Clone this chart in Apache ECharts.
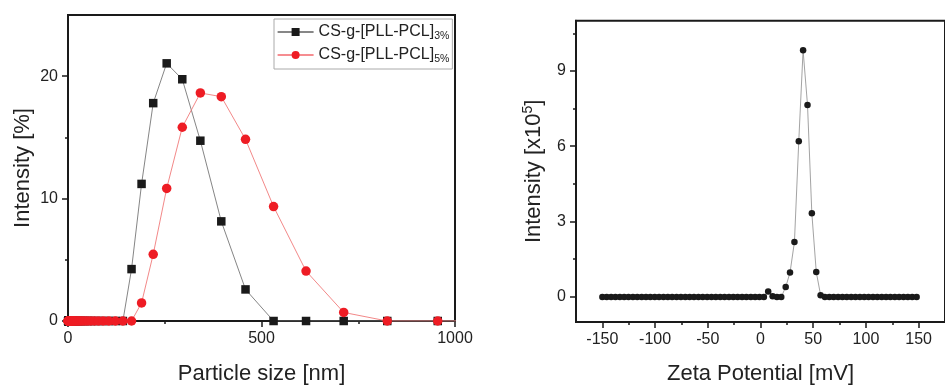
<!DOCTYPE html>
<html><head><meta charset="utf-8">
<script src="https://cdn.jsdelivr.net/npm/echarts@6/dist/echarts.min.js"></script>
<style>html,body{margin:0;padding:0;background:#fff}#c{width:945px;height:390px}</style>
</head><body><div id="c"></div>
<script>
// Particle size distribution (DLS bins, nm)
const sizeBins = [0.4, 0.4632, 0.5365, 0.6213, 0.7195, 0.8332, 0.9649, 1.117, 1.294, 1.499,
  1.736, 2.01, 2.328, 2.696, 3.122, 3.615, 4.187, 4.849, 5.615, 6.503,
  7.531, 8.721, 10.1, 11.7, 13.54, 15.69, 18.17, 21.04, 24.36, 28.21,
  32.67, 37.84, 43.82, 50.75, 58.77, 68.06, 78.82, 91.28, 105.7, 122.4,
  141.8, 164.2, 190.1, 220.2, 255, 295.3, 342, 396.1, 458.7, 531.2,
  615.1, 712.4, 825, 955.4, 1106];
const intensity3 = [0, 0, 0, 0, 0, 0, 0, 0, 0, 0,
  0, 0, 0, 0, 0, 0, 0, 0, 0, 0,
  0, 0, 0, 0, 0, 0, 0, 0, 0, 0,
  0, 0, 0, 0, 0, 0, 0, 0, 0, 0,
  0, 4.24, 11.2, 17.8, 21.05, 19.75, 14.73, 8.14, 2.58, 0,
  0, 0, 0, 0, 0];
const intensity5 = [0, 0, 0, 0, 0, 0, 0, 0, 0, 0,
  0, 0, 0, 0, 0, 0, 0, 0, 0, 0,
  0, 0, 0, 0, 0, 0, 0, 0, 0, 0,
  0, 0, 0, 0, 0, 0, 0, 0, 0, 0,
  0, 0, 1.48, 5.45, 10.83, 15.83, 18.63, 18.33, 14.84, 9.35,
  4.08, 0.7, 0, 0, 0];
const legendNames = ['CS-g-[PLL-PCL]', 'CS-g-[PLL-PCL]'];
const legendSubs = ['3%', '5%'];

// Zeta potential distribution
const zetaX = [-150, -145.9, -141.7, -137.6, -133.4, -129.3, -125.2, -121.0, -116.9, -112.7,
  -108.6, -104.5, -100.3, -96.2, -92.0, -87.9, -83.8, -79.6, -75.5, -71.3,
  -67.2, -63.1, -58.9, -54.8, -50.6, -46.5, -42.4, -38.2, -34.1, -29.9,
  -25.8, -21.7, -17.5, -13.4, -9.2, -5.1, -1.0, 3.2, 7.3, 11.5,
  15.6, 19.7, 23.9, 28.0, 32.2, 36.3, 40.4, 44.6, 48.7, 52.9,
  57.0, 61.1, 65.3, 69.4, 73.6, 77.7, 81.8, 86.0, 90.1, 94.3,
  98.4, 102.5, 106.7, 110.8, 115.0, 119.1, 123.2, 127.4, 131.5, 135.7,
  139.8, 143.9, 148.1];
const zetaY = [0, 0, 0, 0, 0, 0, 0, 0, 0, 0,
  0, 0, 0, 0, 0, 0, 0, 0, 0, 0,
  0, 0, 0, 0, 0, 0, 0, 0, 0, 0,
  0, 0, 0, 0, 0, 0, 0, 0, 0.21, 0.03,
  0, 0, 0.39, 0.97, 2.19, 6.2, 9.82, 7.64, 3.33, 0.99,
  0.07, 0, 0, 0, 0, 0, 0, 0, 0, 0,
  0, 0, 0, 0, 0, 0, 0, 0, 0, 0,
  0, 0, 0];

// Tick values
const leftXTicks = [0, 500, 1000];
const leftXMinor = [250, 750];
const leftYTicks = [0, 10, 20];
const leftYMinor = [5, 15];
const rightXTicks = [-150, -100, -50, 0, 50, 100, 150];
const rightXMinor = [-125, -75, -25, 25, 75, 125];
const rightYTicks = [0, 3, 6, 9];
const rightYMinor = [1.5, 4.5, 7.5, 10.5];

const FONT = 'Liberation Sans';
const AX = '#1a1a1a';
const chart = echarts.init(document.getElementById('c'));

function labelStyle(vals) {
  return { fontSize: 16, color: '#222', margin: 10, fontFamily: FONT, customValues: vals,
    formatter: v => String(v) };
}
function tickStyle(vals, len) {
  return { show: true, length: len, customValues: vals, lineStyle: { color: AX, width: 1.5 } };
}
function mainAxis(extra) {
  return Object.assign({
    type: 'value',
    axisLine: { show: true, onZero: false, lineStyle: { color: AX, width: 2 } },
    splitLine: { show: false },
    nameLocation: 'middle',
    nameTextStyle: { fontSize: 22, color: '#222', fontFamily: FONT }
  }, extra);
}
function minorAxis(extra) {
  return Object.assign({
    type: 'value',
    axisLine: { show: false, onZero: false },
    axisLabel: { show: false },
    splitLine: { show: false }
  }, extra);
}

const option = {
  backgroundColor: '#fff',
  animation: false,
  grid: [
    { left: 68, top: 15, width: 387, height: 309.3, show: true, borderColor: AX, borderWidth: 2, containLabel: false },
    { left: 576, top: 20.7, width: 377, height: 305, show: true, borderColor: AX, borderWidth: 2, containLabel: false }
  ],
  xAxis: [
    mainAxis({ gridIndex: 0, position: 'bottom', min: 0, max: 1000,
      axisTick: tickStyle(leftXTicks, 6), axisLabel: labelStyle(leftXTicks),
      name: 'Particle size [nm]', nameGap: 42 }),
    minorAxis({ gridIndex: 0, position: 'bottom', min: 0, max: 1000,
      axisTick: tickStyle(leftXMinor, 3) }),
    mainAxis({ gridIndex: 1, position: 'bottom', min: -175, max: 175,
      axisTick: tickStyle(rightXTicks, 6), axisLabel: labelStyle(rightXTicks),
      name: 'Zeta Potential [mV]', nameGap: 41 }),
    minorAxis({ gridIndex: 1, position: 'bottom', min: -175, max: 175,
      axisTick: tickStyle(rightXMinor, 3) })
  ],
  yAxis: [
    mainAxis({ gridIndex: 0, position: 'left', min: 0, max: 25,
      axisTick: tickStyle(leftYTicks, 6), axisLabel: labelStyle(leftYTicks),
      name: 'Intensity [%]', nameGap: 34 }),
    minorAxis({ gridIndex: 0, position: 'left', min: 0, max: 25,
      axisTick: tickStyle(leftYMinor, 3) }),
    mainAxis({ gridIndex: 1, position: 'left', min: -1, max: 11,
      axisTick: tickStyle(rightYTicks, 6), axisLabel: labelStyle(rightYTicks),
      name: '{a|Intensity [x10}{s|5}{a|]}', nameGap: 29,
      nameTextStyle: { fontSize: 22, color: '#222', fontFamily: FONT,
        rich: { a: { fontSize: 22, color: '#222', fontFamily: FONT },
                s: { fontSize: 14, color: '#222', fontFamily: FONT, padding: [0, 0, 12, 0] } } } }),
    minorAxis({ gridIndex: 1, position: 'left', min: -1, max: 11,
      axisTick: tickStyle(rightYMinor, 3) })
  ],
  legend: {
    orient: 'vertical',
    left: 274, top: 19,
    padding: [5, 3, 4, 3],
    itemGap: 5,
    itemWidth: 36, itemHeight: 10,
    borderColor: '#aaa', borderWidth: 1,
    backgroundColor: '#fff',
    data: [
      { name: 's3', lineStyle: { color: '#111', width: 1.2 } },
      { name: 's5', lineStyle: { color: '#ee1c24', width: 1.2 } }
    ],
    formatter: function (n) {
      const i = n === 's3' ? 0 : 1;
      return '{a|' + legendNames[i] + '}{b|' + legendSubs[i] + '}';
    },
    textStyle: {
      rich: {
        a: { fontSize: 16, color: '#222', fontFamily: FONT },
        b: { fontSize: 10.5, color: '#222', fontFamily: FONT, padding: [9, 0, 0, 0] }
      }
    }
  },
  series: [
    { name: 's3', type: 'line', xAxisIndex: 0, yAxisIndex: 0,
      data: sizeBins.map((x, i) => [x, intensity3[i]]),
      symbol: 'rect', symbolSize: 8.5, clip: true,
      itemStyle: { color: '#1a1a1a' },
      lineStyle: { color: '#777', width: 0.9 } },
    { name: 's5', type: 'line', xAxisIndex: 0, yAxisIndex: 0,
      data: sizeBins.map((x, i) => [x, intensity5[i]]),
      symbol: 'circle', symbolSize: 9.5, clip: true,
      itemStyle: { color: '#ee1c24' },
      lineStyle: { color: '#f07a7a', width: 0.9 } },
    { name: 'zeta', type: 'line', xAxisIndex: 2, yAxisIndex: 2,
      data: zetaX.map((x, i) => [x, zetaY[i]]),
      symbol: 'circle', symbolSize: 6.5,
      itemStyle: { color: '#1a1a1a' },
      lineStyle: { color: '#999', width: 0.9 } }
  ]
};
chart.setOption(option);
</script>
</body></html>
